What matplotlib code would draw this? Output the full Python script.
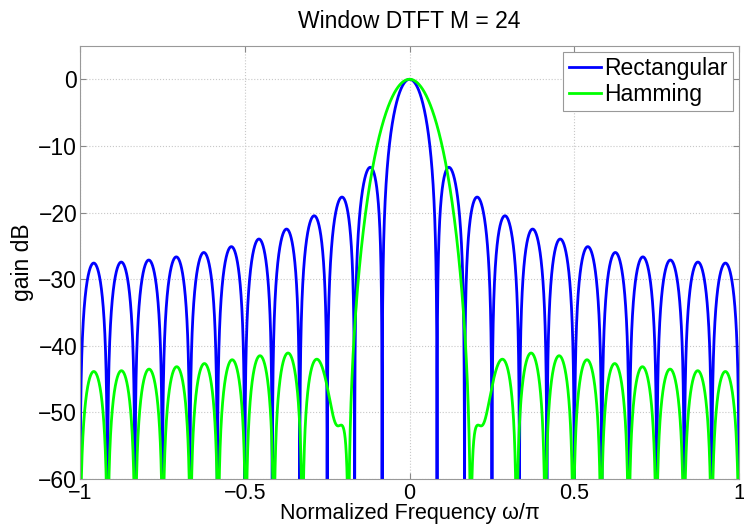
import numpy as np
import matplotlib.pyplot as plt

plt.rcParams['font.family'] = ['Liberation Sans', 'DejaVu Sans']

# Window length and the two windows
M = 24
windows = ["Rectangular", "Hamming"]
colors = ["#0000ff", "#00ff00"]
x_ticks = [-1, -0.5, 0, 0.5, 1]
y_ticks = [0, -10, -20, -30, -40, -50, -60]

nfft = 16384


def dtft_db(w):
    W = np.fft.fftshift(np.fft.fft(w, nfft))
    mag = np.abs(W)
    mag = mag / mag.max()
    return 20 * np.log10(np.maximum(mag, 1e-12))


freq = np.fft.fftshift(np.fft.fftfreq(nfft)) * 2  # omega/pi

win_data = {
    "Rectangular": np.ones(M),
    "Hamming": np.hamming(M),
}

fs = 16.5
fig = plt.figure(figsize=(7.44, 5.32), dpi=100)
ax = fig.add_axes([0.1075, 0.0996, 0.886, 0.814])

for name, c in zip(windows, colors):
    ax.plot(freq, dtft_db(win_data[name]), color=c, lw=2.0, label=name)

ax.set_xlim(-1, 1)
ax.set_ylim(-60, 5)
ax.set_xticks(x_ticks)
ax.set_xticklabels(["\u22121", "\u22120.5", "0", "0.5", "1"])
ax.set_yticks(y_ticks)
ax.set_yticklabels(["0", "\u221210", "\u221220", "\u221230", "\u221240", "\u221250", "\u221260"])
ax.tick_params(labelsize=fs, direction="in", length=4, color="#888888",
               top=True, right=True)
ax.tick_params(axis="x", pad=3, labelsize=15.5)
ax.tick_params(axis="y", pad=2)
ax.grid(True, linestyle=":", color="#c8c8c8", linewidth=0.8)
for s in ax.spines.values():
    s.set_color("#999999")

ax.set_title("Window DTFT M = 24", fontsize=fs, pad=13)
ax.set_xlabel("Normalized Frequency \u03c9/\u03c0", fontsize=15.5, labelpad=-1)
ax.set_ylabel("gain dB", fontsize=fs, labelpad=3)

leg = ax.legend(loc="upper right", fontsize=fs, fancybox=False, framealpha=1,
                handlelength=1.4, handletextpad=0.15, borderpad=0.25, labelspacing=0.1,
                borderaxespad=0.25)
leg.get_frame().set_edgecolor("#999999")
leg.get_frame().set_linewidth(0.8)

fig.savefig("out.png", dpi=100)
